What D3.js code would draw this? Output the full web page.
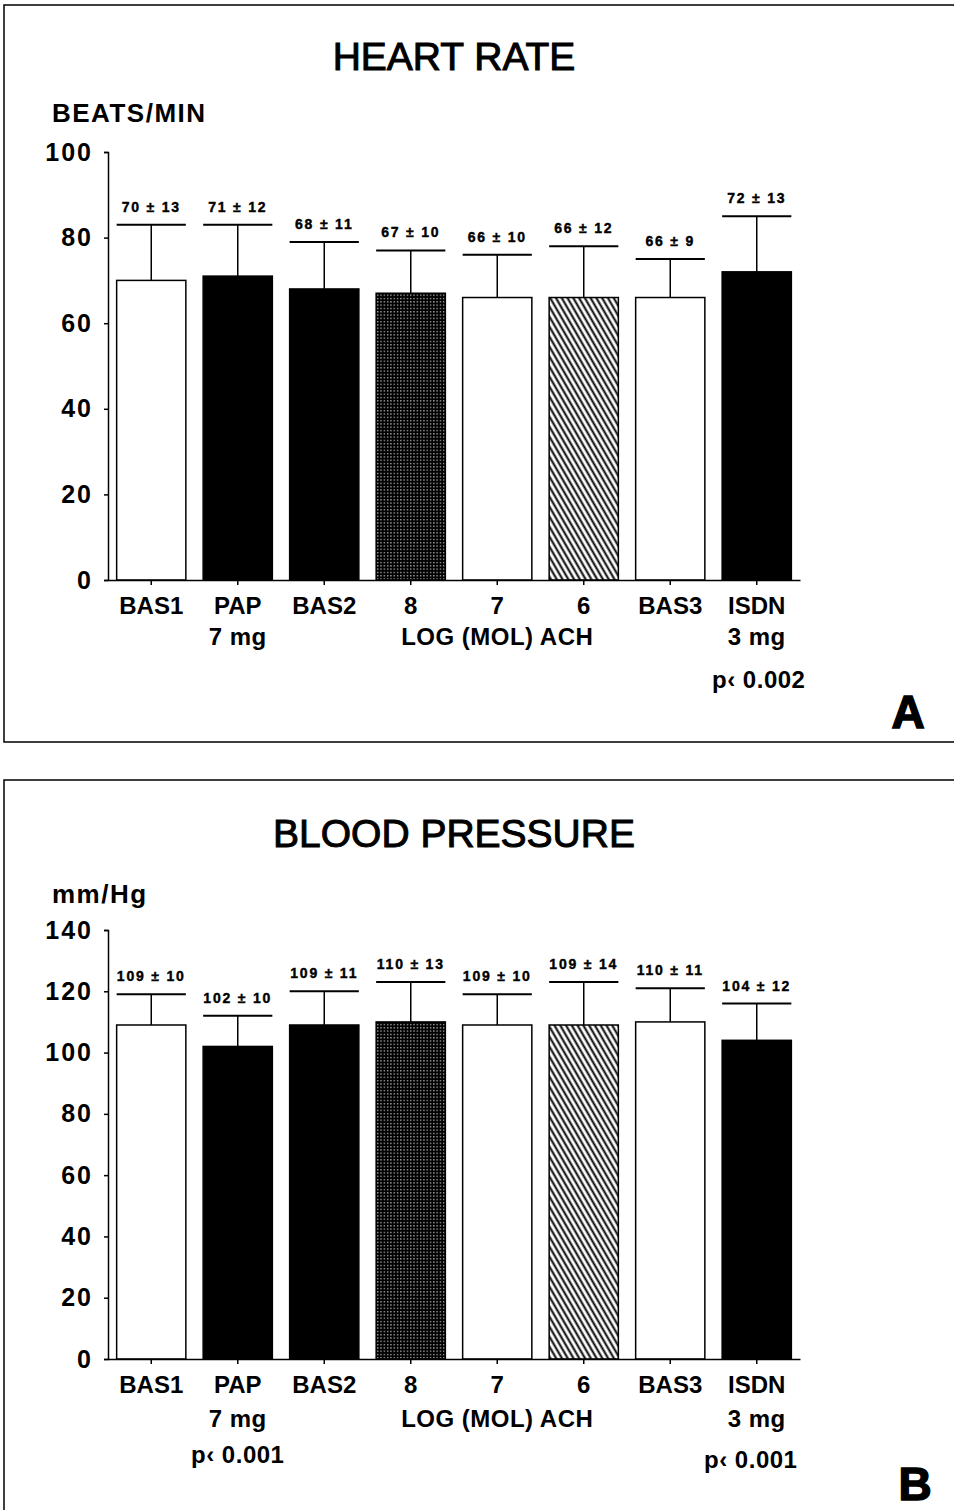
<!DOCTYPE html>
<html>
<head>
<meta charset="utf-8">
<script src="https://cdn.jsdelivr.net/npm/d3@7"></script>
<style>
    body { margin: 0; background: #fff; }
    svg { display: block; }
    text { font-family: "Liberation Sans", Arial, sans-serif; font-weight: bold; fill: #000; }
</style>
</head>
<body>
<svg id="chart" width="954" height="1510"></svg>
<script>
    // groups along the x axis
    const categories = ["BAS1", "PAP", "BAS2", "8", "7", "6", "BAS3", "ISDN"];
    // fill of each bar
    const barPattern = ["white", "black", "black", "dots", "white", "hatch", "white", "black"];

    // heart rate, beats/min (mean and sd)
    const hrMean = [70, 71, 68, 67, 66, 66, 66, 72];
    const hrSd = [13, 12, 11, 10, 10, 12, 9, 13];
    const hrTicks = [0, 20, 40, 60, 80, 100];

    // blood pressure, mm/Hg (mean and sd)
    const bpMean = [109, 102, 109, 110, 109, 109, 110, 104];
    const bpSd = [10, 10, 11, 13, 10, 14, 11, 12];
    const bpTicks = [0, 20, 40, 60, 80, 100, 120, 140];

    const svg = d3.select("#chart");

    // patterns
    const defs = svg.append("defs");
    const dots = defs.append("pattern")
        .attr("id", "dots").attr("patternUnits", "userSpaceOnUse")
        .attr("width", 3.3).attr("height", 3.3);
    dots.append("rect").attr("width", 3.3).attr("height", 3.3).attr("fill", "#000");
    dots.append("rect").attr("x", 1).attr("y", 1).attr("width", 1.1).attr("height", 1.1).attr("fill", "#fff");

    const hatch = defs.append("pattern")
        .attr("id", "hatch").attr("patternUnits", "userSpaceOnUse")
        .attr("width", 5).attr("height", 5)
        .attr("patternTransform", "rotate(-30)");
    hatch.append("rect").attr("width", 5).attr("height", 5).attr("fill", "#fff");
    hatch.append("line").attr("x1", 2.5).attr("y1", -1).attr("x2", 2.5).attr("y2", 6)
        .attr("stroke", "#000").attr("stroke-width", 2);

    function fillFor(p) {
        if (p === "dots") return "url(#dots)";
        if (p === "hatch") return "url(#hatch)";
        return p;
    }

    function drawPanel(cfg) {
        const g = svg.append("g");

        // frame (top, left, bottom)
        g.append("path")
            .attr("d", cfg.frame)
            .attr("fill", "none").attr("stroke", "#000").attr("stroke-width", 1.5);

        const x = d3.scaleBand()
            .domain(categories)
            .range([108, 800])
            .paddingInner(0.2)
            .paddingOuter(0.1);

        const y = d3.scaleLinear()
            .domain([0, d3.max(cfg.ticks)])
            .range([cfg.y0, cfg.yTop]);

        g.append("text")
            .attr("x", 454).attr("y", cfg.titleY)
            .attr("text-anchor", "middle")
            .style("font-size", "39px")
            .style("font-weight", "normal")
            .style("stroke", "#000").style("stroke-width", 1)
            .text(cfg.title);

        g.append("text")
            .attr("x", 52).attr("y", cfg.unitY)
            .style("font-size", "26px")
            .style("letter-spacing", "1.5px")
            .text(cfg.unit);

        const rows = cfg.mean.map((m, i) => ({ cat: categories[i], mean: m, sd: cfg.sd[i], pat: barPattern[i] }));

        // bars
        g.selectAll("rect.bar")
            .data(rows)
            .join("rect")
            .attr("class", "bar")
            .attr("x", d => x(d.cat))
            .attr("y", d => y(d.mean))
            .attr("width", x.bandwidth())
            .attr("height", d => y(0) - y(d.mean))
            .attr("fill", d => fillFor(d.pat))
            .attr("stroke", "#000").attr("stroke-width", 1.5);

        // error bars
        g.selectAll("line.err")
            .data(rows)
            .join("line")
            .attr("class", "err")
            .attr("x1", d => x(d.cat) + x.bandwidth() / 2)
            .attr("x2", d => x(d.cat) + x.bandwidth() / 2)
            .attr("y1", d => y(d.mean))
            .attr("y2", d => y(d.mean + d.sd))
            .attr("stroke", "#000").attr("stroke-width", 1.5);

        g.selectAll("line.cap")
            .data(rows)
            .join("line")
            .attr("class", "cap")
            .attr("x1", d => x(d.cat))
            .attr("x2", d => x(d.cat) + x.bandwidth())
            .attr("y1", d => y(d.mean + d.sd))
            .attr("y2", d => y(d.mean + d.sd))
            .attr("stroke", "#000").attr("stroke-width", 2);

        g.selectAll("text.val")
            .data(rows)
            .join("text")
            .attr("class", "val")
            .attr("x", d => x(d.cat) + x.bandwidth() / 2)
            .attr("y", d => y(d.mean + d.sd) - 13)
            .attr("text-anchor", "middle")
            .style("font-size", "14px")
            .style("letter-spacing", "1.8px")
            .style("stroke", "#000").style("stroke-width", 0.4)
            .text(d => `${d.mean} ± ${d.sd}`);

        // y axis
        const ya = g.append("g")
            .attr("transform", "translate(108,0)")
            .call(d3.axisLeft(y).tickValues(cfg.ticks).tickSize(4).tickSizeOuter(4).tickPadding(11));
        ya.selectAll("path, line").attr("stroke", "#000").attr("stroke-width", 1.5);
        ya.selectAll("text")
            .style("font-family", "'Liberation Sans', Arial, sans-serif")
            .style("font-weight", "bold")
            .style("font-size", "25px")
            .style("letter-spacing", "2px");

        // x axis
        const xa = g.append("g")
            .attr("transform", `translate(0,${cfg.y0})`)
            .call(d3.axisBottom(x).tickSize(5).tickSizeOuter(0).tickPadding(12));
        xa.selectAll("path, line").attr("stroke", "#000").attr("stroke-width", 1.5);
        xa.selectAll("text")
            .style("font-family", "'Liberation Sans', Arial, sans-serif")
            .style("font-weight", "bold")
            .style("font-size", "24px");

        const cx = c => x(c) + x.bandwidth() / 2;
        const sub = [
            ["PAP", "7 mg", cfg.row2],
            ["7", "LOG (MOL) ACH", cfg.row2],
            ["ISDN", "3 mg", cfg.row2]
        ].concat(cfg.pvals);
        g.selectAll("text.sub")
            .data(sub)
            .join("text")
            .attr("class", "sub")
            .attr("x", d => cx(d[0]) + (d[3] || 0))
            .attr("y", d => d[2])
            .attr("text-anchor", "middle")
            .style("font-size", "24px")
            .style("letter-spacing", "0.5px")
            .text(d => d[1]);

        g.append("text")
            .attr("x", cfg.letterX).attr("y", cfg.letterY)
            .attr("text-anchor", "middle")
            .style("font-size", "46px")
            .style("stroke", "#000").style("stroke-width", 1.5)
            .text(cfg.letter);
    }

    drawPanel({
        frame: "M954,5H4V742H954",
        title: "HEART RATE", titleY: 70,
        unit: "BEATS/MIN", unitY: 122,
        mean: hrMean, sd: hrSd, ticks: hrTicks,
        y0: 580, yTop: 152,
        row2: 645,
        pvals: [["ISDN", "p‹ 0.002", 688, 2]],
        letter: "A", letterX: 908, letterY: 728
    });

    drawPanel({
        frame: "M954,780H4V1510",
        title: "BLOOD PRESSURE", titleY: 847,
        unit: "mm/Hg", unitY: 903,
        mean: bpMean, sd: bpSd, ticks: bpTicks,
        y0: 1359, yTop: 930,
        row2: 1427,
        pvals: [["PAP", "p‹ 0.001", 1463, 0], ["ISDN", "p‹ 0.001", 1468, -6]],
        letter: "B", letterX: 915, letterY: 1500
    });
</script>
</body>
</html>
